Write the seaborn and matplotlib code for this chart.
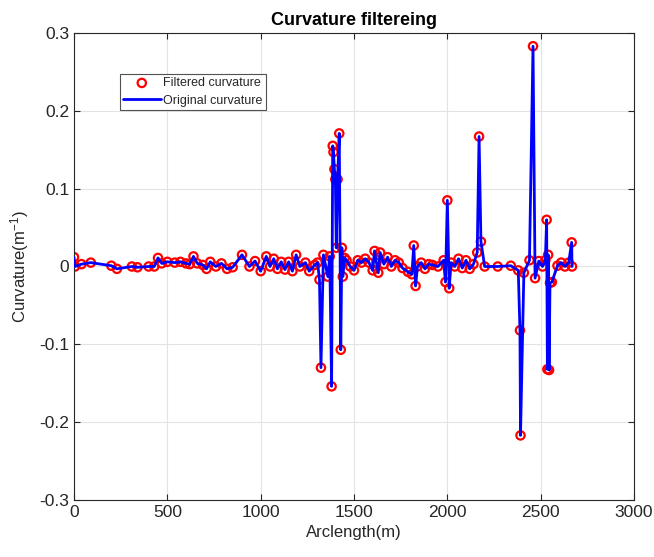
import numpy as np
import pandas as pd
import matplotlib
matplotlib.use("Agg")
import matplotlib.pyplot as plt
import seaborn as sns

# arclength (m) and curvature (1/m)
arc = [0, 5, 40, 90, 200, 230, 310, 340, 400, 430, 450, 470, 500, 540, 570,
       600, 620, 640, 660, 690, 710, 730, 760, 790, 820, 850, 900, 940, 970,
       1000, 1030, 1050, 1070, 1090, 1110, 1130, 1150, 1170, 1190, 1210,
       1240, 1260, 1290, 1305, 1315, 1323, 1336, 1360, 1370, 1380, 1386,
       1390, 1395, 1400, 1405, 1412, 1421, 1429, 1435, 1440, 1450, 1460,
       1480, 1500, 1520, 1540, 1560, 1580, 1600, 1610, 1620, 1630, 1640,
       1660, 1680, 1700, 1720, 1740, 1760, 1790, 1810, 1820, 1830, 1840,
       1860, 1880, 1900, 1920, 1950, 1980, 1990, 2000, 2010, 2020, 2040,
       2060, 2080, 2100, 2120, 2140, 2160, 2170, 2180, 2200, 2270, 2340,
       2380, 2389, 2392, 2410, 2440, 2459, 2470, 2490, 2510, 2525, 2532,
       2536, 2540, 2545, 2550, 2560, 2590, 2610, 2630, 2650, 2666, 2668]
curv = [0.012, 0.0, 0.003, 0.005, 0.001, -0.003, 0.0, -0.001, 0.0, 0.0,
        0.011, 0.004, 0.006, 0.005, 0.006, 0.004, 0.003, 0.013, 0.004,
        0.002, -0.003, 0.006, 0.0, 0.004, -0.003, -0.001, 0.015, 0.0,
        0.007, -0.006, 0.013, 0.0, 0.01, -0.003, 0.006, -0.004, 0.006,
        -0.006, 0.015, 0.0, 0.005, -0.006, 0.002, 0.005, -0.017, -0.130,
        0.015, -0.013, 0.013, -0.154, 0.155, 0.147, 0.125, 0.112, 0.024,
        0.112, 0.171, -0.107, 0.024, -0.013, 0.011, 0.008, 0.0, -0.005,
        0.008, 0.005, 0.01, 0.005, -0.005, 0.02, 0.005, -0.008, 0.018,
        0.003, 0.012, 0.0, 0.008, 0.005, -0.002, -0.007, -0.01, 0.027,
        -0.025, 0.0, 0.005, -0.003, 0.003, 0.002, 0.0, 0.008, -0.02, 0.085,
        -0.028, 0.005, 0.0, 0.01, -0.002, 0.008, -0.003, 0.003, 0.018,
        0.167, 0.032, 0.0, 0.0, 0.001, -0.005, -0.082, -0.217, -0.008,
        0.008, 0.283, -0.015, 0.007, 0.0, 0.008, 0.06, -0.132, 0.015,
        -0.133, -0.021, -0.02, 0.001, 0.005, 0.0, 0.005, 0.031, 0.0]
curv_filt = list(curv)

df = pd.DataFrame({"arc": arc, "orig": curv, "filt": curv_filt})

sns.set_style("whitegrid")
plt.rcParams["font.family"] = ["Liberation Sans", "DejaVu Sans"]
plt.rcParams["mathtext.fontset"] = "custom"
plt.rcParams["mathtext.rm"] = "Liberation Sans"
plt.rcParams["mathtext.it"] = "Liberation Sans"

fig = plt.figure(figsize=(6.54, 5.57), dpi=100)
ax = fig.add_axes([74/654, 57/557, 560/654, 467/557])

sns.scatterplot(data=df, x="arc", y="filt", ax=ax, marker="o", s=36,
                facecolor="none", edgecolor="red", linewidth=1.6,
                label="Filtered curvature", zorder=2)
sns.lineplot(data=df, x="arc", y="orig", ax=ax, sort=False, estimator=None,
             color="blue", linewidth=2, label="Original curvature", zorder=3)

ax.set_xlim(0, 3000)
ax.set_ylim(-0.3, 0.3)
ax.set_xticks(np.arange(0, 3001, 500))
ax.set_yticks(np.arange(-0.3, 0.31, 0.1))
ax.set_yticklabels(["-0.3", "-0.2", "-0.1", "0", "0.1", "0.2", "0.3"])
ax.grid(True, color="#e3e3e3", linewidth=0.8)
for s in ax.spines.values():
    s.set_color("#262626")
    s.set_linewidth(0.8)
ax.tick_params(direction="in", length=4, labelsize=12.5, colors="#262626",
               top=True, right=True, bottom=True, left=True)
ax.set_title("Curvature filtereing", fontsize=13, fontweight="bold", color="black")
ax.set_xlabel("Arclength(m)", fontsize=12, color="#262626")
ax.set_ylabel("Curvature(m$^{-1}$)", fontsize=12, color="#262626", labelpad=6)

leg = ax.legend(loc="upper left", bbox_to_anchor=(0.082, 0.912), fontsize=9,
                frameon=True, fancybox=False, edgecolor="#262626",
                borderpad=0.25, handlelength=3.0, handletextpad=0.2,
                labelspacing=0.45, borderaxespad=0)
leg.get_frame().set_linewidth(0.8)

fig.savefig("out.png", dpi=100)
